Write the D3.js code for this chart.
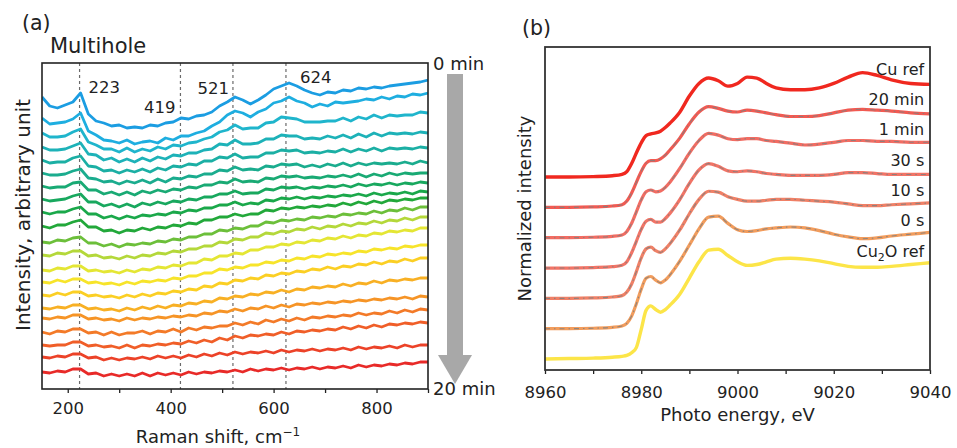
<!DOCTYPE html>
<html><head><meta charset="utf-8">
<script src="https://cdn.jsdelivr.net/npm/d3@7"></script>
<style>
html,body{margin:0;padding:0;background:#fff;}
svg{display:block;}
</style></head><body>
<svg id="fig" width="957" height="448"></svg>
<script>
// ---------- (a) Raman spectra, 0 min (top) to 20 min (bottom) ----------
const ramanShift = [150,165,180,195,210,225,240,255,270,285,300,315,330,345,360,375,390,405,420,435,450,465,480,495,510,525,540,555,570,585,600,615,630,645,660,675,690,705,720,735,750,765,780,795,810,825,840,855,870,885,900];
const ramanOffsets = [292,271,256,242,229,216,203,190,177,163,147,134,119,107,94,81,71,57,44,32,17];
const ramanSpectra = [
 [0,-9,-11,-8,-5,4,-17,-24,-26,-29,-28,-31,-30,-31,-28,-29,-26,-25,-21,-22,-19,-18,-15,-9,-5,0,-3,-7,-3,2,8,11,14,11,7,4,2,5,4,7,6,9,8,10,9,11,12,13,14,15,17],
 [0,-6,-5,-4,-1,5,-13,-17,-22,-23,-25,-22,-26,-24,-23,-25,-20,-22,-18,-18,-15,-13,-8,-4,3,7,5,1,6,9,15,17,21,17,15,11,14,12,16,15,16,17,19,18,21,19,22,21,24,23,25],
 [0,-4,-4,-3,1,4,-9,-12,-16,-16,-19,-15,-19,-16,-18,-14,-16,-12,-13,-10,-9,-6,-4,1,3,8,4,5,5,10,11,16,15,14,11,11,11,12,12,15,12,16,14,18,15,18,17,18,18,21,20],
 [0,-3,-3,-2,1,4,-7,-8,-13,-11,-15,-12,-15,-11,-14,-10,-12,-8,-9,-6,-6,-3,-2,3,2,7,3,3,4,8,8,12,11,11,8,9,8,11,9,12,9,13,10,14,11,14,13,14,13,15,14],
 [0,-3,-2,-2,2,4,-6,-7,-11,-10,-13,-10,-12,-9,-12,-8,-10,-6,-7,-4,-5,-1,-1,3,2,6,2,3,3,7,7,10,9,10,7,8,7,9,8,11,8,11,9,12,9,12,11,12,11,13,12],
 [0,-2,-2,-1,2,4,-5,-6,-9,-8,-11,-8,-10,-7,-10,-6,-9,-5,-6,-3,-4,-1,-1,3,2,6,3,4,3,7,6,9,8,9,6,8,6,9,7,10,7,10,8,10,9,10,9,11,9,12,10],
 [0,-2,-1,-1,3,4,-4,-4,-8,-6,-9,-6,-9,-5,-7,-4,-6,-3,-4,-1,-2,1,1,4,3,7,4,5,4,8,7,10,9,10,8,9,8,10,9,11,9,12,9,12,10,13,11,13,12,13,13],
 [0,-2,-1,0,3,5,-3,-3,-7,-5,-8,-5,-8,-4,-6,-3,-5,-2,-3,0,-1,2,2,5,5,8,5,6,6,10,9,12,11,12,10,12,11,13,12,14,12,15,13,15,14,16,14,16,15,17,16],
 [0,-2,0,0,3,5,-2,-2,-6,-4,-7,-4,-6,-3,-4,-2,-3,0,-1,2,1,4,4,7,7,10,7,9,8,12,11,14,13,15,13,15,14,16,15,17,16,18,16,19,17,19,18,20,18,21,20],
 [0,-2,1,1,4,6,-1,-1,-5,-4,-7,-4,-5,-2,-4,-1,-2,1,0,3,2,6,6,9,9,12,10,12,12,16,15,18,17,19,18,20,19,21,20,23,21,24,22,25,23,26,25,27,26,28,28],
 [0,-1,2,1,4,5,-1,-1,-4,-2,-5,-2,-3,-1,-2,1,0,3,2,5,5,8,8,12,11,14,13,16,16,20,19,22,21,23,22,25,24,26,25,28,27,29,28,31,29,32,31,34,32,35,35],
 [0,-1,2,1,4,4,-1,0,-3,-2,-4,-1,-3,0,-1,2,1,4,3,6,6,9,9,13,12,16,15,18,18,22,21,24,23,26,25,28,26,29,28,31,29,32,31,34,32,35,34,37,35,38,38],
 [0,-1,2,1,4,4,-1,0,-2,-1,-3,0,-2,1,0,3,2,5,4,7,7,11,10,14,14,17,16,20,20,23,23,26,25,28,27,30,29,32,31,34,32,35,34,37,36,39,38,40,39,42,42],
 [0,-1,2,0,3,3,-1,0,-2,-1,-3,0,-2,1,0,2,1,4,3,6,6,9,9,13,12,15,14,17,17,20,19,22,21,24,23,26,25,28,27,29,28,31,30,33,32,34,33,36,35,37,37],
 [0,-1,2,0,3,3,-1,0,-2,-1,-3,0,-2,1,-1,2,1,4,3,6,5,9,8,12,11,15,14,17,16,20,19,22,21,24,23,26,25,28,26,29,28,31,30,33,31,34,33,36,34,37,37],
 [0,-1,1,0,3,3,-1,0,-2,-1,-3,0,-2,1,-1,2,0,3,2,5,4,7,6,10,9,12,11,14,13,16,15,18,16,19,18,21,20,22,21,24,22,25,24,27,25,28,27,29,28,30,30],
 [0,-1,1,0,3,3,-1,0,-2,-1,-3,0,-2,0,-1,1,0,2,1,3,2,5,4,7,6,9,7,10,9,12,10,13,11,14,13,15,14,16,15,17,16,18,17,19,18,20,19,21,19,22,21],
 [0,-2,1,0,3,3,-1,0,-3,0,-3,-1,-1,1,-2,1,0,3,0,4,2,5,4,6,6,9,7,10,8,12,10,13,11,14,12,15,14,16,15,17,16,19,17,19,18,21,19,22,20,23,22],
 [0,-1,0,0,3,3,-1,0,-2,-1,-3,0,-3,0,-1,1,0,2,1,4,2,5,3,7,5,9,7,10,9,11,10,13,11,14,13,15,14,16,15,18,16,19,17,20,18,21,20,22,21,23,22],
 [0,-1,1,0,3,3,-1,0,-3,-1,-3,-1,-2,0,-2,1,-1,1,-1,2,0,3,1,4,2,5,3,5,4,6,4,7,5,7,6,8,6,8,7,9,7,10,8,10,9,11,9,12,10,12,12],
 [0,-1,1,0,3,3,-2,-1,-4,-2,-4,-2,-4,-1,-4,-1,-3,-1,-3,0,-2,0,-1,1,0,2,0,3,1,3,2,4,2,4,3,5,3,5,4,6,4,7,5,7,6,8,7,9,8,10,10]
];
const ramanColors = ["#1b9de2","#1eaee0","#1fb5cc","#1db2b8","#1bafa4","#1aac8e","#19aa74","#18a85e","#1aa84a","#22a83a","#6cbf3a","#b4d83a","#e4e634","#f7e42a","#fbcf24","#f8b024","#f69426","#f37a28","#f05e28","#ec4228","#e82a28"];
const ramanPeaks = [223,419,521,624];
const ramanTicks = [200,400,600,800];
const ramanMinorTicks = [300,500,700,900];

// ---------- (b) Cu K-edge XANES ----------
const energy = [8960,8965,8970,8974,8976,8977,8978,8979,8980,8981,8982,8983,8984,8985,8986,8988,8990,8992,8994,8996,8998,9000,9002,9004,9006,9008,9011,9014,9017,9020,9023,9026,9029,9032,9036,9040];
const xanesCuRef = [0,0,0.005,0.015,0.03,0.06,0.15,0.27,0.38,0.46,0.48,0.49,0.51,0.55,0.60,0.72,0.90,1.04,1.10,1.07,1.01,1.04,1.11,1.10,1.04,0.99,0.97,0.97,0.99,1.04,1.11,1.16,1.13,1.08,1.04,1.03];
const xanes20min = [0,0,0.005,0.015,0.03,0.07,0.16,0.28,0.40,0.49,0.52,0.52,0.54,0.58,0.64,0.77,0.93,1.06,1.12,1.10,1.07,1.06,1.08,1.07,1.05,1.03,1.01,1.01,1.02,1.05,1.08,1.09,1.08,1.07,1.05,1.04];
const xanes1min = [0,0,0.005,0.015,0.03,0.07,0.16,0.29,0.42,0.51,0.53,0.51,0.52,0.56,0.62,0.77,0.94,1.08,1.16,1.14,1.10,1.09,1.10,1.10,1.08,1.07,1.05,1.03,1.04,1.06,1.08,1.08,1.07,1.07,1.06,1.06];
const xanes30s = [0,0,0.005,0.015,0.03,0.07,0.17,0.30,0.43,0.52,0.54,0.51,0.51,0.55,0.61,0.76,0.94,1.09,1.16,1.13,1.08,1.07,1.08,1.07,1.05,1.04,1.03,1.03,1.03,1.04,1.06,1.06,1.05,1.04,1.04,1.04];
const xanes10s = [0,0,0.005,0.015,0.03,0.07,0.16,0.30,0.45,0.55,0.57,0.53,0.51,0.55,0.61,0.76,0.94,1.10,1.19,1.18,1.13,1.10,1.08,1.08,1.09,1.10,1.10,1.09,1.08,1.07,1.05,1.03,1.03,1.04,1.05,1.06];
const xanes0s = [0,0,0.005,0.015,0.03,0.06,0.14,0.28,0.44,0.56,0.58,0.54,0.51,0.54,0.60,0.75,0.93,1.11,1.24,1.25,1.17,1.10,1.08,1.09,1.11,1.12,1.13,1.12,1.09,1.05,1.02,1.00,1.01,1.03,1.05,1.07];
const xanesCu2ORef = [0,0.005,0.01,0.02,0.03,0.04,0.07,0.13,0.33,0.54,0.59,0.55,0.52,0.55,0.60,0.72,0.90,1.08,1.21,1.22,1.15,1.08,1.04,1.05,1.08,1.11,1.12,1.11,1.09,1.06,1.03,1.02,1.02,1.03,1.05,1.07];
const xanesLabels = ["Cu ref","20 min","1 min","30 s","10 s","0 s","Cu2O ref"];
const xanesOffsets = [2.022,1.685,1.348,1.011,0.674,0.337,0];
const xanesColors = ["#f0281f","#f25a52","#f26c62","#f27466","#f08066","#f29c5c","#fce548"];
const xanesDashed = [false,true,true,true,true,true,false];
const xanesTicks = [8960,8980,9000,9020,9040];
const xanesMinorTicks = [8970,8990,9010,9030];

const FONT = '"DejaVu Sans", Verdana, sans-serif';
const ink = "#222";
const svg = d3.select("#fig").attr("font-family", FONT);

// ===== panel (a) =====
const pa = {left:42, right:428, top:63, bottom:389};
const xA = d3.scaleLinear().domain([150,900]).range([pa.left, pa.right]);
const yA = d3.scaleLinear().domain([0,326]).range([pa.bottom, pa.top]);
const gA = svg.append("g");
svg.append("clipPath").attr("id","clipA").append("rect")
  .attr("x",pa.left).attr("y",pa.top).attr("width",pa.right-pa.left).attr("height",pa.bottom-pa.top);

gA.append("g").selectAll("line").data(ramanPeaks).join("line")
  .attr("x1",d=>xA(d)).attr("x2",d=>xA(d)).attr("y1",pa.top).attr("y2",pa.bottom)
  .attr("stroke","#6a6a6a").attr("stroke-width",1.2).attr("stroke-dasharray","3,3");

const lineA = d3.line().x(d=>xA(d[0])).y(d=>yA(d[1]));
gA.append("g").attr("clip-path","url(#clipA)").selectAll("path").data(ramanSpectra).join("path")
  .attr("d",(s,k)=>lineA(s.map((v,i)=>[ramanShift[i], ramanOffsets[k]+v])))
  .attr("fill","none").attr("stroke",(s,k)=>ramanColors[k])
  .attr("stroke-width",2.8).attr("stroke-linejoin","round");

const axA = gA.append("g").attr("transform",`translate(0,${pa.bottom})`)
  .call(d3.axisBottom(xA).tickValues(ramanTicks).tickSize(4).tickPadding(9).tickFormat(d3.format("d")));
const axAm = gA.append("g").attr("transform",`translate(0,${pa.bottom})`)
  .call(d3.axisBottom(xA).tickValues(ramanMinorTicks).tickSize(4).tickFormat(""));
[axA,axAm].forEach(a=>{a.select(".domain").remove();a.selectAll("line").attr("stroke",ink).attr("stroke-width",1.3);});
axA.selectAll("text").attr("font-size",16.5).attr("fill",ink).attr("font-family",FONT);

gA.append("rect").attr("x",pa.left).attr("y",pa.top).attr("width",pa.right-pa.left).attr("height",pa.bottom-pa.top)
  .attr("fill","none").attr("stroke",ink).attr("stroke-width",1.6);

const peakLabelPos = [{dx:9,anchor:"start",y:93},{dx:-5,anchor:"end",y:113},{dx:-4,anchor:"end",y:94},{dx:14,anchor:"start",y:83}];
gA.append("g").selectAll("text").data(ramanPeaks).join("text")
  .attr("x",(d,i)=>xA(d)+peakLabelPos[i].dx).attr("y",(d,i)=>peakLabelPos[i].y)
  .attr("text-anchor",(d,i)=>peakLabelPos[i].anchor).attr("font-size",16.5).attr("fill",ink).text(d=>d);

svg.append("text").attr("x",22).attr("y",30).attr("font-size",20.5).attr("fill",ink).text("(a)");
svg.append("text").attr("x",50).attr("y",53).attr("font-size",21).attr("fill",ink).text("Multihole");
svg.append("text").attr("transform",`translate(30,${(pa.top+pa.bottom)/2 - 11}) rotate(-90)`)
  .attr("text-anchor","middle").attr("font-size",20).attr("fill",ink).text("Intensity, arbitrary unit");
const xtA = svg.append("text").attr("x",218).attr("y",443).attr("text-anchor","middle").attr("font-size",18).attr("fill",ink);
xtA.append("tspan").text("Raman shift, cm");
xtA.append("tspan").attr("font-size",12).attr("dy",-7).text("\u22121");

// time arrow
const arrow = svg.append("g").attr("fill","#a8a8a8");
arrow.append("rect").attr("x",447).attr("y",74).attr("width",16).attr("height",282);
arrow.append("path").attr("d","M438,355 L472,355 L455,384 Z");
svg.append("text").attr("x",433).attr("y",70).attr("font-size",18).attr("fill",ink).text("0 min");
svg.append("text").attr("x",433).attr("y",395).attr("font-size",18).attr("fill",ink).text("20 min");

// ===== panel (b) =====
const pb = {left:545, right:930, top:47, bottom:370};
const xB = d3.scaleLinear().domain([8960,9040]).range([pb.left, pb.right]);
const yB = d3.scaleLinear().domain([-0.122,3.467]).range([pb.bottom, pb.top]);
const gB = svg.append("g");
svg.append("clipPath").attr("id","clipB").append("rect")
  .attr("x",pb.left).attr("y",pb.top).attr("width",pb.right-pb.left).attr("height",pb.bottom-pb.top);
const xanes = [xanesCuRef,xanes20min,xanes1min,xanes30s,xanes10s,xanes0s,xanesCu2ORef];
const lineB = d3.line().x(d=>xB(d[0])).y(d=>yB(d[1])).curve(d3.curveMonotoneX);
const curvesB = gB.append("g").attr("clip-path","url(#clipB)");
xanes.forEach((s,k)=>{
  const pts = s.map((v,i)=>[energy[i], xanesOffsets[k]+v]);
  curvesB.append("path").attr("d",lineB(pts)).attr("fill","none")
    .attr("stroke",xanesColors[k]).attr("stroke-width",(k===0||k===6)?3.4:3.2)
    .attr("stroke-linejoin","round").attr("stroke-linecap","round");
  if (xanesDashed[k]) {
    curvesB.append("path").attr("d",lineB(pts)).attr("fill","none")
      .attr("stroke","#808080").attr("stroke-opacity",0.85).attr("stroke-width",1.1)
      .attr("stroke-dasharray","5,4,1.5,4");
  }
});

const axB = gB.append("g").attr("transform",`translate(0,${pb.bottom})`)
  .call(d3.axisBottom(xB).tickValues(xanesTicks).tickSize(4).tickPadding(12).tickFormat(d3.format("d")));
const axBm = gB.append("g").attr("transform",`translate(0,${pb.bottom})`)
  .call(d3.axisBottom(xB).tickValues(xanesMinorTicks).tickSize(4).tickFormat(""));
[axB,axBm].forEach(a=>{a.select(".domain").remove();a.selectAll("line").attr("stroke",ink).attr("stroke-width",1.3);});
axB.selectAll("text").attr("font-size",16.5).attr("fill",ink).attr("font-family",FONT);
gB.append("rect").attr("x",pb.left).attr("y",pb.top).attr("width",pb.right-pb.left).attr("height",pb.bottom-pb.top)
  .attr("fill","none").attr("stroke","#333").attr("stroke-width",1.8);

const lab = gB.append("g").attr("font-size",16).attr("fill",ink).attr("text-anchor","end");
xanesLabels.forEach((t,k)=>{
  const tx = lab.append("text").attr("x",xB(9038.8)).attr("y",yB(xanesOffsets[k]+1.2)).attr("dy","0.36em");
  if (t.startsWith("Cu2O")) {
    tx.append("tspan").text("Cu");
    tx.append("tspan").attr("font-size",11).attr("dy",4).text("2");
    tx.append("tspan").attr("dy",-4).text("O ref");
  } else tx.text(t);
});

svg.append("text").attr("x",522).attr("y",35).attr("font-size",20.5).attr("fill",ink).text("(b)");
svg.append("text").attr("transform",`translate(531,${(pb.top+pb.bottom)/2}) rotate(-90)`)
  .attr("text-anchor","middle").attr("font-size",18).attr("fill",ink).text("Normalized intensity");
svg.append("text").attr("x",(pb.left+pb.right)/2).attr("y",421).attr("text-anchor","middle")
  .attr("font-size",18).attr("fill",ink).text("Photo energy, eV");
</script>
</body></html>
